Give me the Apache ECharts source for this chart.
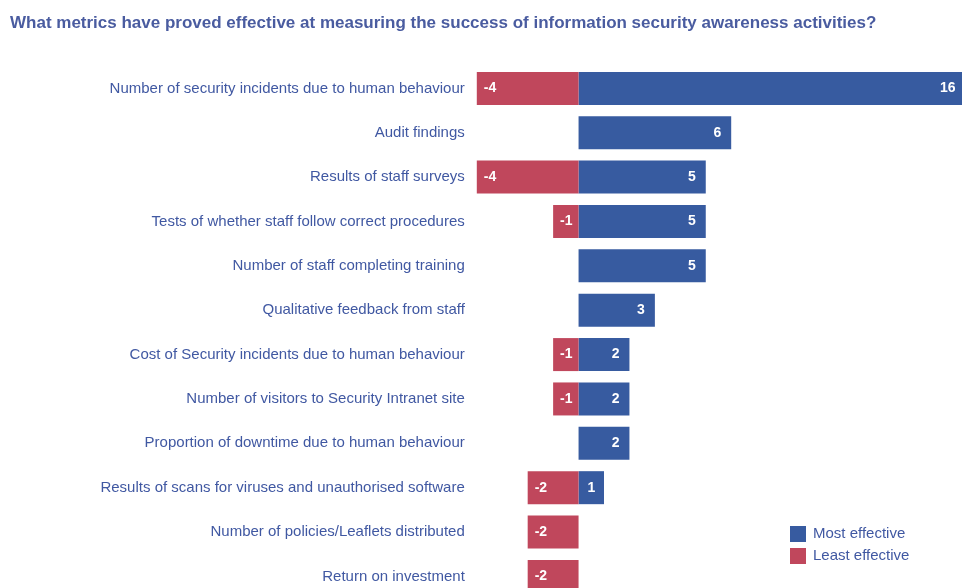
<!DOCTYPE html>
<html>
<head>
<meta charset="utf-8">
<script src="https://cdn.jsdelivr.net/npm/echarts@6/dist/echarts.min.js"></script>
<style>
html,body{margin:0;padding:0;background:#fff;width:962px;height:588px;overflow:hidden;}
#c{width:1000px;height:620px;}
</style>
</head>
<body>
<div id="c"></div>
<script>
const titleText = 'What metrics have proved effective at measuring the success of information security awareness activities?';
const categories = [
  'Number of security incidents due to human behaviour',
  'Audit findings',
  'Results of staff surveys',
  'Tests of whether staff follow correct procedures',
  'Number of staff completing training',
  'Qualitative feedback from staff',
  'Cost of Security incidents due to human behaviour',
  'Number of visitors to Security Intranet site',
  'Proportion of downtime due to human behaviour',
  'Results of scans for viruses and unauthorised software',
  'Number of policies/Leaflets distributed',
  'Return on investment'
];
const mostEffective = [16, 6, 5, 5, 5, 3, 2, 2, 2, 1, null, null];
const leastEffective = [-4, null, -4, -1, null, null, -1, -1, null, -2, -2, -2];
const seriesNames = ['Most effective', 'Least effective'];

const BLUE = '#375BA0';
const RED = '#C0475C';
const TEXT = '#4058A2';
const xMin = -4;
const xMax = 16;

const chart = echarts.init(document.getElementById('c'), null, {renderer: 'canvas'});

const mostData = mostEffective.map(v => {
  if (v === null) return '-';
  if (v >= xMax) return {value: v, label: {position: 'insideRight', distance: 30}};
  if (v <= 1) return {value: v, label: {position: 'inside'}};
  return v;
});
const leastData = leastEffective.map(v => v === null ? '-' : v);

chart.setOption({
  animation: false,
  title: {
    text: titleText,
    left: 5, top: 10,
    textStyle: {fontFamily: 'Liberation Sans, Arial', fontSize: 17, fontWeight: 'bold', color: '#4A5CA0'}
  },
  legend: {
    data: seriesNames,
    orient: 'vertical',
    left: 785, top: 521,
    itemWidth: 16, itemHeight: 16, itemGap: 6,
    icon: 'rect',
    textStyle: {fontFamily: 'Liberation Sans, Arial', fontSize: 15, color: TEXT, padding: [0, 0, 0, 2]}
  },
  grid: {left: 476.8, width: 508.8, top: 66.2, height: 532.4, containLabel: false},
  xAxis: {
    type: 'value', min: xMin, max: xMax,
    show: false
  },
  yAxis: {
    type: 'category', data: categories, inverse: true,
    axisLine: {show: false}, axisTick: {show: false}, splitLine: {show: false},
    axisLabel: {
      margin: 12, fontFamily: 'Liberation Sans, Arial', fontSize: 15, color: TEXT
    }
  },
  series: [
    {
      name: seriesNames[0], type: 'bar', data: mostData,
      barWidth: 33, barGap: '-100%',
      itemStyle: {color: BLUE},
      label: {show: true, position: 'insideRight', distance: 10, color: '#fff',
        fontFamily: 'Liberation Sans, Arial', fontSize: 14, fontWeight: 'bold'}
    },
    {
      name: seriesNames[1], type: 'bar', data: leastData,
      barWidth: 33, barGap: '-100%',
      itemStyle: {color: RED},
      label: {show: true, position: 'insideLeft', distance: 7, color: '#fff',
        fontFamily: 'Liberation Sans, Arial', fontSize: 14, fontWeight: 'bold'}
    }
  ]
});
</script>
</body>
</html>
